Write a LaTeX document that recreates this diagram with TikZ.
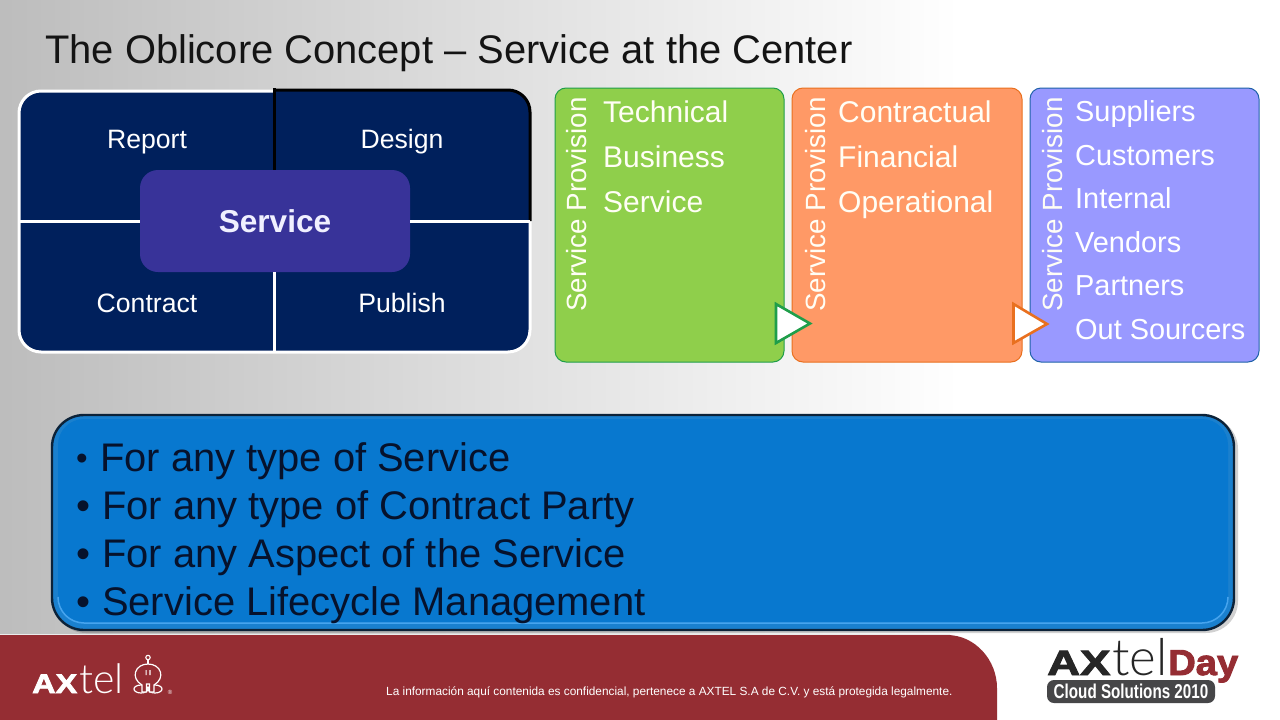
\documentclass[tikz,border=0pt]{standalone}
\usepackage{fontspec}
\setmainfont{Liberation Sans}
\newfontfamily\lightf[UprightFont=* Light]{Lato}
\newfontfamily\heavyf[FakeBold=2.5]{Liberation Sans Bold}
\usetikzlibrary{calc}
\definecolor{navy}{HTML}{00205C}
\definecolor{svc}{HTML}{383399}
\definecolor{gfill}{HTML}{8FCF4B}
\definecolor{gline}{HTML}{1F9E4A}
\definecolor{ofill}{HTML}{FF9966}
\definecolor{oline}{HTML}{E9701F}
\definecolor{pfill}{HTML}{9999FF}
\definecolor{pline}{HTML}{1F62A8}
\definecolor{bfill}{HTML}{0878CF}
\definecolor{bedge}{HTML}{0C2238}
\definecolor{blight}{HTML}{46A4EE}
\definecolor{bband}{HTML}{1A80CE}
\definecolor{ink}{HTML}{06122C}
\definecolor{wine}{HTML}{952D33}
\definecolor{darkbadge}{HTML}{464648}
\newcommand{\fs}[1]{\fontsize{#1}{#1}\selectfont}
\tikzset{
  x=1pt,y=-1pt,
  paneltext/.style={anchor=base west,inner sep=0pt,text=white!96!yellow,font=\fs{30}},
  vendortext/.style={anchor=base west,inner sep=0pt,text=white,font=\fs{28.9}},
  sidetext/.style={anchor=base west,inner sep=0pt,text=white!96!yellow,rotate=90,font=\fs{27.8}},
  quad/.style={anchor=base,inner sep=0pt,text=white,font=\fs{26.6}},
  bullettext/.style={anchor=base west,inner sep=0pt,text=ink,font=\fs{39.9}},
  bulletmark/.style={anchor=base west,inner sep=0pt,text=ink,font=\fs{40}},
  panel/.style={draw=#1,line width=1pt,rounded corners=11pt},
  marker/.style={draw=#1,fill=white,line width=2.6pt,line join=miter},
}
\begin{document}
\begin{tikzpicture}
\useasboundingbox (0,0) rectangle (1280,720);
% background
\fill[white] (0,0) rectangle (1280,720);
\shade[left color=black!26,right color=white] (0,0) rectangle (960,720);
% title
\node[anchor=base west,inner sep=0pt,text=black!92,font=\fs{39.9}] (title) at (45,63) {The Oblicore Concept – Service at the Center};
% left quadrant panel
\fill[navy,rounded corners=22pt] (19,91) rectangle (530,352);
\draw[white,line width=3pt,rounded corners=22pt] (274,91) -- (19,91) -- (19,352) -- (530,352) -- (530,221);
\draw[black,line width=3pt,rounded corners=22pt] (274,90) -- (530,90) -- (530,221);
\coordinate (vtop) at (274,88);
\coordinate (vbot) at (274,352);
\coordinate (hleft) at (19,221);
\coordinate (hright) at (530,221);
\node[fill=svc,rounded corners=18pt,minimum width=270pt,minimum height=102pt,inner sep=0pt,text=white!94!blue,font=\bfseries\fs{31.6}] (service) at (275,221) {Service};
\draw[black,line width=3pt] (vtop) -- (service.north -| vtop);
\draw[white,line width=3pt] (service.south -| vbot) -- (vbot);
\draw[white,line width=3pt] (hleft) -- (service.west);
\draw[white,line width=3pt] (service.east) -- (hright);
\node[quad] (report) at (147,148) {Report};
\node[quad] (design) at (402,148) {Design};
\node[quad] (contract) at (147,312) {Contract};
\node[quad] (publish) at (402,312) {Publish};
% three column panels
\draw[panel=gline,fill=gfill] (555,88) rectangle (784,362);
\draw[panel=oline,fill=ofill] (792,88) rectangle (1022,362);
\draw[panel=pline,fill=pfill] (1030,88) rectangle (1259,362);
\node[sidetext] (s1) at (586,312) {Service Provision};
\node[sidetext] (s2) at (825,312) {Service Provision};
\node[sidetext] (s3) at (1062,312) {Service Provision};
\node[paneltext] (t1) at (603,122) {Technical};
\node[paneltext] (t2) at (603,167) {Business};
\node[paneltext] (t3) at (603,212) {Service};
\node[paneltext] (c1) at (838,122) {Contractual};
\node[paneltext] (c2) at (838,167) {Financial};
\node[paneltext] (c3) at (838,212) {Operational};
\node[vendortext] (v1) at (1075,121) {Suppliers};
\node[vendortext] (v2) at (1075,165) {Customers};
\node[vendortext] (v3) at (1075,208) {Internal};
\node[vendortext] (v4) at (1075,252) {Vendors};
\node[vendortext] (v5) at (1075,295) {Partners};
\node[vendortext] (v6) at (1075,339) {Out Sourcers};
\draw[marker=gline] (776,304) -- (810,323.5) -- (776,343) -- cycle;
\draw[marker=oline] (1013.5,304) -- (1047,324) -- (1013.5,343) -- cycle;
% blue box
\fill[black,opacity=0.18,rounded corners=32pt] (54,417) rectangle (1238,633);
\draw[draw=bedge,fill=bband,line width=2.4pt,rounded corners=32pt] (52,415) rectangle (1234,630);
\fill[bfill,rounded corners=26pt] (58,419) rectangle (1228,622);
\draw[blight,line width=1.5pt,rounded corners=26pt] (1228,597) -- (1228,623) -- (58,623) -- (58,597);
\node[bulletmark,font=\fs{33}] (b0) at (76,469) {•};
\node[bullettext] (l1) at (100,471) {For any type of Service};
\node[bulletmark] (b1) at (76,519) {•};
\node[bullettext] (l2) at (102,519) {For any type of Contract Party};
\node[bulletmark] (b2) at (76,567) {•};
\node[bullettext] (l3) at (102,567) {For any Aspect of the Service};
\node[bulletmark] (b3) at (76,615) {•};
\node[bullettext] (l4) at (102,615) {Service Lifecycle Management};
% footer
\fill[black!8!white] (0,633.5) rectangle (950,636);
\fill[wine] (0,635) -- (947,635) .. controls (975,635) and (997,660) .. (997,688) -- (997,720) -- (0,720) -- cycle;
\node[anchor=base west,inner sep=0pt,text=white,font=\fs{11.84}] (notice) at (386,695) {La información aquí contenida es confidencial, pertenece a AXTEL S.A de C.V. y está protegida legalmente.};
% axtel logo
\node[anchor=base west,inner sep=0pt,text=white,font=\heavyf\fs{27}] (ax) at (32,693) {\scalebox{1.2}[1]{AX}};
\node[anchor=base west,inner sep=0pt,text=white,font=\lightf\fs{41}] (tel) at (79,693) {tel};
\draw[white,line width=1.1pt] (148,657.5) circle (2.2);
\draw[white,line width=1.1pt] (148,660) -- (148,664);
\draw[white,line width=1.2pt] (141,689) ellipse (7 and 4);
\draw[white,line width=1.2pt] (155,689) ellipse (7 and 4);
\draw[white,line width=1.2pt,fill=wine] (142,685) .. controls (130,678) and (135,664) .. (148,664) .. controls (161,664) and (166,678) .. (154,685) -- (154,692) -- (149.5,692) -- (149.5,684) -- (146.5,684) -- (146.5,692) -- (142,692) -- cycle;
\fill[white] (145.5,670) rectangle (146.7,675) (149.3,670) rectangle (150.5,675);
\node[anchor=center,inner sep=0pt,text=white,font=\fs{6}] (reg) at (170,692) {®};
% axtelday logo
\node[anchor=base west,inner sep=0pt,text=black!85,font=\heavyf\fs{35}] (dax) at (1047,675) {\scalebox{1.3}[1]{AX}};
\node[anchor=base west,inner sep=0pt,text=black!85,font=\lightf\fs{51}] (dtel) at (1112,675) {tel};
\node[anchor=base west,inner sep=0pt,text=wine,font=\heavyf\fs{36}] (dday) at (1168,675) {\scalebox{1.06}[1]{Day}};
\node[fill=darkbadge,rounded corners=7pt,minimum width=168pt,minimum height=23pt,inner sep=0pt,text=white,font=\bfseries\fs{20}] (badge) at (1131,691.5) {\scalebox{0.76}[1]{Cloud Solutions 2010}};
\end{tikzpicture}
\end{document}
